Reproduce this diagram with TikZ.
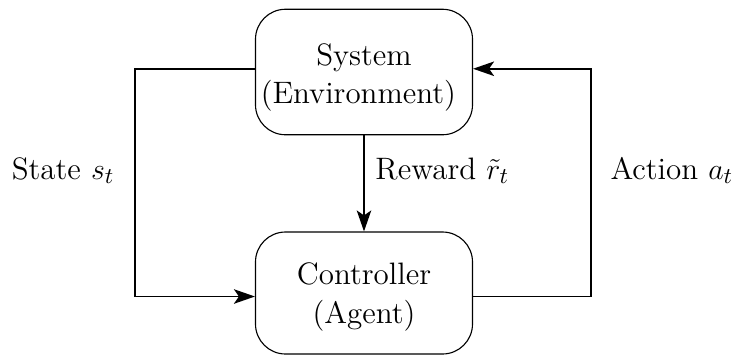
\documentclass[tikz,border=0pt]{standalone}
\usepackage{fontspec}
\usetikzlibrary{arrows.meta}
\begin{document}
\begin{tikzpicture}[x=0.4pt,y=-0.4pt,
  box/.style={draw, line width=0.45pt, rounded corners=12pt, inner sep=0pt,
    minimum width=86.8pt, align=center, font=\fontsize{12.4}{15.3}\selectfont},
  conn/.style={line width=0.65pt, -{Stealth[length=8.4pt,width=5.8pt,inset=2pt]}},
  lbl/.style={inner sep=0pt, font=\fontsize{12.4}{14.8}\selectfont}]
\useasboundingbox (0,0) rectangle (735,355);
\node[box, minimum height=50.2pt] (sys) at (364,72) {\rule{0pt}{13pt}System\\(Environment)\hbox to 4.5pt{}};
\node[box, minimum height=48.8pt] (ctl) at (364,293) {\rule{0pt}{12pt}Controller\\(Agent)};
\coordinate (L) at (135,0);
\coordinate (R) at (591,0);
\coordinate (s1) at ([yshift=1.3pt]sys.west);
\coordinate (s2) at ([yshift=1.3pt]sys.east);
\coordinate (c1) at ([yshift=-1.4pt]ctl.west);
\coordinate (c2) at ([yshift=-1.4pt]ctl.east);
\draw[conn] (s1) -- (s1 -| L) |- (c1);
\draw[conn] (c2) -- (c2 -| R) |- (s2);
\draw[conn] (sys.south) -- (ctl.north);
\node[lbl, anchor=base east] (st) at (115,179) {State $s_t$};
\node[lbl, anchor=base west] (rw) at (375,179) {Reward $\tilde{r}_t$};
\node[lbl, anchor=base west] (ac) at (610,179) {Action $a_t$};
\end{tikzpicture}
\end{document}
